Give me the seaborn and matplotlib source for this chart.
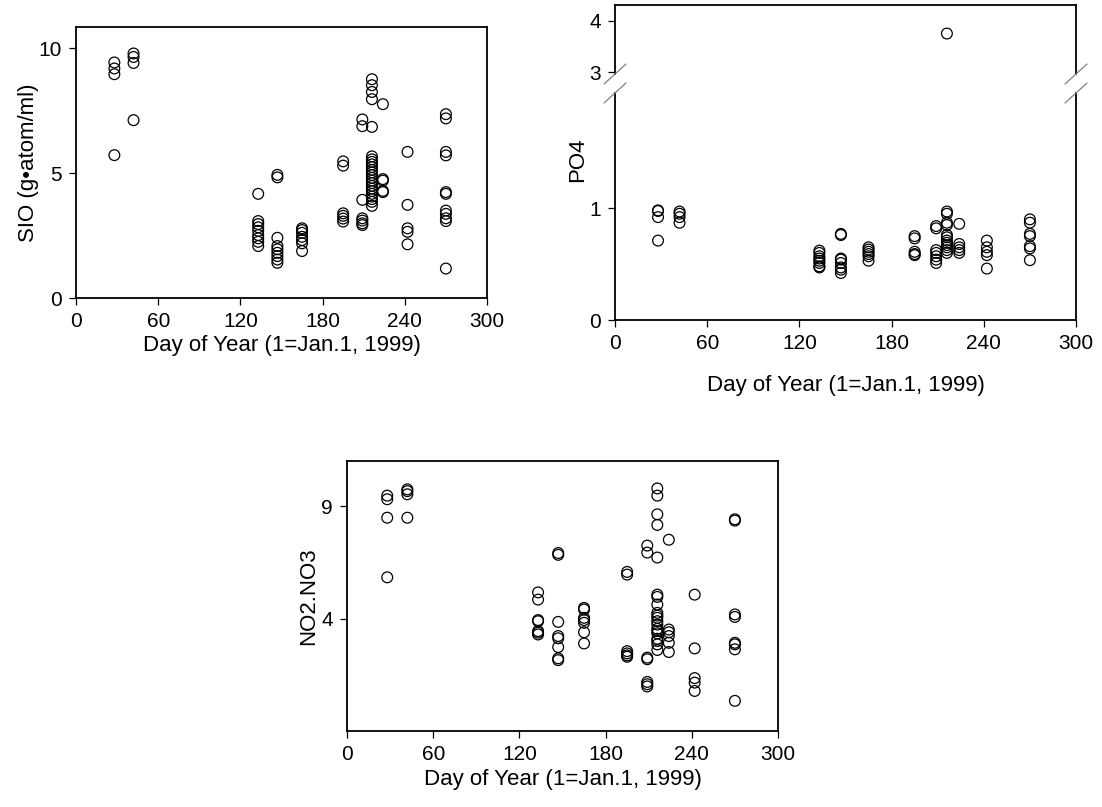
import numpy as np
import pandas as pd
import matplotlib
matplotlib.use("Agg")
import matplotlib.pyplot as plt
import seaborn as sns

# ---------------- data ----------------
sample_days = [28, 42, 133, 147, 165, 195, 209, 216, 224, 242, 270]

sio_values = [
    [9.43, 9.19, 8.96, 5.72],
    [9.79, 9.65, 9.41, 7.12],
    [4.17, 3.08, 2.96, 2.83, 2.69, 2.52, 2.39, 2.25, 2.08],
    [4.93, 4.83, 2.41, 2.08, 1.95, 1.81, 1.68, 1.54, 1.41],
    [2.79, 2.72, 2.61, 2.45, 2.32, 2.19, 1.88],
    [5.47, 5.30, 3.39, 3.29, 3.18, 3.06],
    [7.15, 6.88, 3.93, 3.19, 3.10, 2.99, 2.92],
    [8.76, 8.52, 8.25, 7.96, 6.85, 5.67, 5.55, 5.45, 5.35, 5.24, 5.13, 5.03,
     4.92, 4.81, 4.70, 4.60, 4.49, 4.38, 4.28, 4.17, 4.06, 3.96, 3.85, 3.69],
    [7.76, 4.76, 4.70, 4.29, 4.24],
    [5.85, 3.73, 2.79, 2.65, 2.15],
    [7.36, 7.19, 5.85, 5.71, 4.24, 4.17, 3.50, 3.37, 3.19, 3.08, 1.18],
]

po4_values = [
    [0.98, 0.975, 0.92, 0.71],
    [0.97, 0.95, 0.92, 0.87],
    [0.62, 0.60, 0.57, 0.55, 0.53, 0.51, 0.48, 0.47],
    [0.77, 0.76, 0.55, 0.54, 0.51, 0.47, 0.45, 0.42],
    [0.65, 0.63, 0.61, 0.59, 0.57, 0.53],
    [0.75, 0.73, 0.61, 0.59, 0.58],
    [0.84, 0.82, 0.625, 0.60, 0.57, 0.54, 0.51],
    [3.75, 0.97, 0.95, 0.87, 0.85, 0.76, 0.74, 0.71, 0.69, 0.67, 0.65, 0.625, 0.60],
    [0.86, 0.68, 0.65, 0.625, 0.60],
    [0.71, 0.65, 0.61, 0.58, 0.46],
    [0.90, 0.87, 0.77, 0.75, 0.66, 0.64, 0.535],
]

no3_values = [
    [9.46, 9.30, 8.48, 5.83],
    [9.74, 9.66, 9.52, 8.48],
    [5.16, 4.84, 3.93, 3.88, 3.44, 3.37, 3.29],
    [6.91, 6.83, 3.85, 3.22, 3.12, 2.73, 2.23, 2.15],
    [4.47, 4.40, 4.03, 3.93, 3.81, 3.39, 2.89],
    [6.07, 5.95, 2.55, 2.45, 2.36, 2.30],
    [7.24, 6.93, 2.26, 2.19, 1.18, 1.08, 0.98],
    [9.78, 9.46, 8.63, 8.16, 6.71, 5.06, 4.96, 4.62, 4.25, 4.13, 4.03, 3.88,
     3.73, 3.54, 3.44, 3.34, 3.10, 3.00, 2.85, 2.60],
    [7.50, 3.51, 3.39, 3.22, 2.92, 2.51],
    [5.06, 2.67, 1.35, 1.15, 0.78],
    [8.41, 8.35, 4.18, 4.07, 2.92, 2.85, 2.63, 0.34],
]

x_ticks = [0, 60, 120, 180, 240, 300]
sio_ticks = [0, 5, 10]
po4_low_ticks = [0, 1]
po4_high_ticks = [3, 4]
no3_ticks = [4, 9]

x_label = "Day of Year (1=Jan.1, 1999)"
sio_label = "SIO (g\u2022atom/ml)"
po4_label = "PO4"
no3_label = "NO2.NO3"


def to_frame(days, groups):
    rows = [(d, v) for d, vals in zip(days, groups) for v in vals]
    return pd.DataFrame(rows, columns=["day", "value"])


sio_df = to_frame(sample_days, sio_values)
po4_df = to_frame(sample_days, po4_values)
no3_df = to_frame(sample_days, no3_values)

# ---------------- style ----------------
sns.set_theme(style="ticks")
plt.rcParams["font.family"] = ["Liberation Sans", "DejaVu Sans"]
TFS = 15
LFS = 16
plt.rcParams.update({
    "axes.edgecolor": "black",
    "axes.linewidth": 1.3,
    "xtick.color": "black",
    "ytick.color": "black",
    "xtick.direction": "out",
    "ytick.direction": "out",
    "xtick.major.size": 5,
    "ytick.major.size": 5,
    "xtick.major.width": 0.9,
    "ytick.major.width": 0.9,
    "xtick.labelsize": TFS,
    "ytick.labelsize": TFS,
    "axes.labelsize": LFS,
    "text.color": "black",
    "axes.labelcolor": "black",
})

W, H = 1102, 807
fig = plt.figure(figsize=(W / 100, H / 100), dpi=100)


def px_axes(left, top, right, bottom):
    return fig.add_axes([left / W, 1 - bottom / H, (right - left) / W, (bottom - top) / H])


scatter_kw = dict(marker="o", s=60, facecolor="none", edgecolor="black",
                  linewidth=0.9, legend=False)


def style_x(ax):
    ax.set_xlim(0, 300)
    ax.set_xticks(x_ticks)
    ax.tick_params(axis="x", top=False, pad=5)
    ax.tick_params(axis="y", right=False, pad=5)


# ---- top-left: SIO ----
ax1 = px_axes(76, 27, 487, 298)
sns.scatterplot(data=sio_df, x="day", y="value", ax=ax1, **scatter_kw)
style_x(ax1)
ax1.set_ylim(0, 10.85)
ax1.set_yticks(sio_ticks)
ax1.set_xlabel(x_label, labelpad=3)
ax1.set_ylabel(sio_label, labelpad=0)

# ---- top-right: PO4 with broken axis ----
ax2_hi = px_axes(615, 5, 1076, 74)
ax2_lo = px_axes(615, 93, 1076, 320)
for ax in (ax2_hi, ax2_lo):
    sns.scatterplot(data=po4_df, x="day", y="value", ax=ax, **scatter_kw)
    style_x(ax)
    ax.set_xlabel("")
    ax.set_ylabel("")
ax2_hi.set_ylim(2.97, 4.3)
ax2_hi.set_yticks(po4_high_ticks)
ax2_hi.spines["bottom"].set_visible(False)
ax2_hi.tick_params(axis="x", bottom=False, labelbottom=False)
ax2_lo.set_ylim(0, 2.03)
ax2_lo.set_yticks(po4_low_ticks)
ax2_lo.spines["top"].set_visible(False)
ax2_lo.set_xlabel(x_label, labelpad=16)
fig.text(578 / W, 1 - 160 / H, po4_label, rotation=90, ha="center", va="center",
         fontsize=LFS)

# break marks
brk = dict(color="#808080", lw=0.9, clip_on=False)
for xs in (615, 1076):
    for yc in (74, 93):
        x0, x1 = (xs - 11) / W, (xs + 11) / W
        y0, y1 = 1 - (yc + 10) / H, 1 - (yc - 10) / H
        fig.add_artist(plt.Line2D([x0, x1], [y0, y1], transform=fig.transFigure, **brk))

# ---- bottom: NO2.NO3 ----
ax3 = px_axes(347, 461, 778, 731)
sns.scatterplot(data=no3_df, x="day", y="value", ax=ax3, **scatter_kw)
style_x(ax3)
ax3.set_ylim(-1, 11)
ax3.set_yticks(no3_ticks)
ax3.set_xlabel(x_label, labelpad=4)
ax3.set_ylabel(no3_label, labelpad=2)

fig.savefig("out.png", dpi=100, facecolor="white")
